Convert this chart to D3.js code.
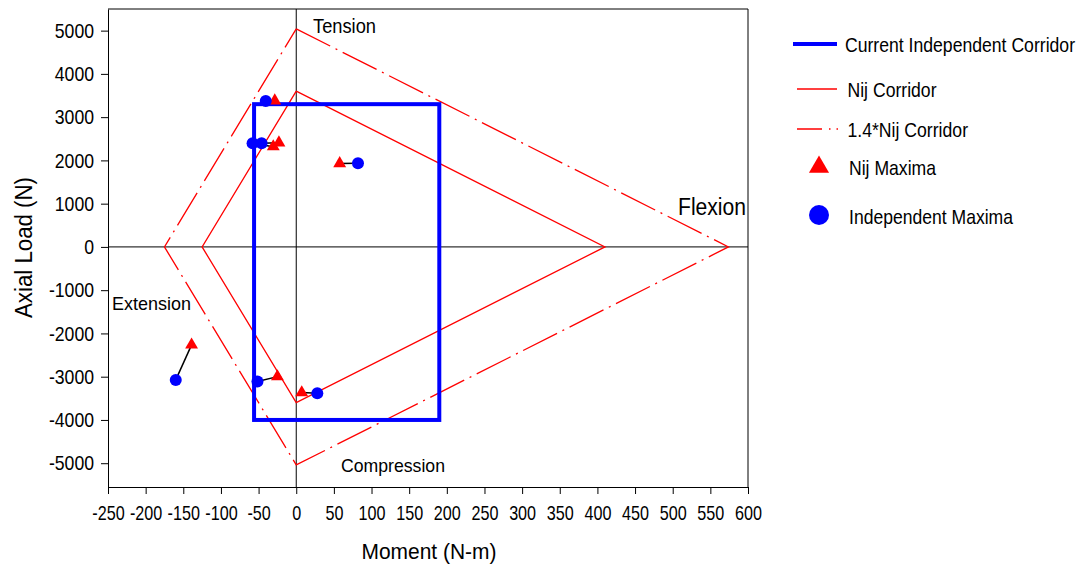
<!DOCTYPE html>
<html><head><meta charset="utf-8">
<script src="https://cdn.jsdelivr.net/npm/d3@7"></script>
<style>body{margin:0;background:#fff;} svg{display:block;font-family:"Liberation Sans",Arial,sans-serif;}</style>
</head><body>
<svg id="c" width="1079" height="565"></svg>
<script>
// Data
const xTicks = [-250,-200,-150,-100,-50,0,50,100,150,200,250,300,350,400,450,500,550,600];
const yTicks = [5000,4000,3000,2000,1000,0,-1000,-2000,-3000,-4000,-5000];
const nijCorridorM = [0, 410, 0, -125, 0];
const nijCorridorF = [3600, 0, -3600, 0, 3600];
const nij14CorridorM = [0, 574, 0, -175, 0];
const nij14CorridorF = [5040, 0, -5040, 0, 5040];
const indepCorridorM = [-56, 190];
const indepCorridorF = [-4000, 3300];
const nijMaxM = [-28.5, -30.5, -23, 57.7, -139, -25, 7.3];
const nijMaxF = [3380, 2318, 2410, 1930, -2265, -2998, -3368];
const indMaxM = [-40.5, -58, -46, 82, -160, -51.5, 28];
const indMaxF = [3375, 2397, 2397, 1935, -3074, -3113, -3383];
const legendLabels = ["Current Independent Corridor","Nij Corridor","1.4*Nij Corridor","Nij Maxima","Independent Maxima"];

const svg = d3.select("#c");
const L=108, R=748, T=9, B=487;
const x = d3.scaleLinear().domain([-250,600]).range([L,R]);
const y = d3.scaleLinear().domain([-5550,5500]).range([B,T]);

function condense(sel, k){
  sel.each(function(){
    const w = this.getComputedTextLength();
    d3.select(this).attr("textLength", w*k).attr("lengthAdjust","spacingAndGlyphs");
  });
}

// frame top/right
svg.append("line").attr("x1",L).attr("x2",R).attr("y1",T).attr("y2",T).attr("stroke","#000").attr("stroke-width",1);
svg.append("line").attr("x1",R).attr("x2",R).attr("y1",T).attr("y2",B).attr("stroke","#000").attr("stroke-width",1);

// axes
const gx = svg.append("g").attr("transform",`translate(0,${B})`)
  .call(d3.axisBottom(x).tickValues(xTicks).tickSize(7).tickSizeOuter(0).tickFormat(d=>String(d)));
const gy = svg.append("g").attr("transform",`translate(${L},0)`)
  .call(d3.axisLeft(y).tickValues(yTicks).tickSize(7).tickSizeOuter(0).tickFormat(d=>String(d)));
[gx,gy].forEach(g=>{
  g.select(".domain").attr("stroke","#000");
  g.selectAll(".tick line").attr("stroke","#000");
  g.selectAll("text").attr("font-size",21).attr("fill","#000").attr("font-family","Liberation Sans, Arial, sans-serif");
});
gx.selectAll("text").attr("y",18);
gy.selectAll("text").attr("x",-14);
condense(gx.selectAll("text"),0.77);
condense(gy.selectAll("text"),0.84);

// zero lines
svg.append("line").attr("x1",x(0)).attr("x2",x(0)).attr("y1",T).attr("y2",B).attr("stroke","#000").attr("stroke-width",1);
svg.append("line").attr("x1",L).attr("x2",R).attr("y1",y(0)).attr("y2",y(0)).attr("stroke","#000").attr("stroke-width",1);

const line = d3.line().x(d=>x(d[0])).y(d=>y(d[1]));
// 1.4 Nij corridor
svg.append("path").attr("d",line(d3.zip(nij14CorridorM,nij14CorridorF)))
  .attr("fill","none").attr("stroke","#ff0000").attr("stroke-width",1.3).attr("stroke-dasharray","38,6,2,6");
// Nij corridor
svg.append("path").attr("d",line(d3.zip(nijCorridorM,nijCorridorF)))
  .attr("fill","none").attr("stroke","#ff0000").attr("stroke-width",1.3);
// independent corridor
svg.append("rect").attr("x",x(indepCorridorM[0])).attr("y",y(indepCorridorF[1]))
  .attr("width",x(indepCorridorM[1])-x(indepCorridorM[0]))
  .attr("height",y(indepCorridorF[0])-y(indepCorridorF[1]))
  .attr("fill","none").attr("stroke","#0000ff").attr("stroke-width",4);

// connectors
nijMaxM.forEach((m,i)=>{
  svg.append("line").attr("x1",x(m)).attr("y1",y(nijMaxF[i])).attr("x2",x(indMaxM[i])).attr("y2",y(indMaxF[i]))
    .attr("stroke","#000").attr("stroke-width",1.5);
});
const tri = d3.symbol().type(d3.symbolTriangle).size(72);
nijMaxM.forEach((m,i)=>{
  svg.append("path").attr("d",tri()).attr("transform",`translate(${x(m)},${y(nijMaxF[i])})`).attr("fill","#ff0000");
});
indMaxM.forEach((m,i)=>{
  svg.append("circle").attr("cx",x(m)).attr("cy",y(indMaxF[i])).attr("r",6).attr("fill","#0000ff");
});

// annotations
const txt=(s,xx,yy,fs,len,anchor)=>svg.append("text").attr("x",xx).attr("y",yy).attr("font-size",fs)
  .attr("text-anchor",anchor||"start").attr("fill","#000")
  .attr("textLength",len).attr("lengthAdjust","spacingAndGlyphs").text(s);
txt("Tension",313,33,20,63);
txt("Compression",341,472,19,104);
txt("Extension",112,310,19,79);
txt("Flexion",678,215,23.5,68);

// axis titles
txt("Moment (N-m)",429,559,22,135,"middle");
svg.append("text").attr("transform","translate(31.5,247.5) rotate(-90)").attr("text-anchor","middle")
  .attr("font-size",23).attr("fill","#000")
  .attr("textLength",141).attr("lengthAdjust","spacingAndGlyphs").text("Axial Load (N)");

// legend
const lg = svg.append("g");
const ly = [44, 89, 129, 167, 215];
const lty = [45, 90, 130, 168, 217];
lg.append("line").attr("x1",793).attr("x2",837).attr("y1",ly[0]).attr("y2",ly[0]).attr("stroke","#0000ff").attr("stroke-width",4);
lg.append("line").attr("x1",797).attr("x2",837).attr("y1",ly[1]).attr("y2",ly[1]).attr("stroke","#ff0000").attr("stroke-width",1.3);
lg.append("line").attr("x1",797).attr("x2",838).attr("y1",ly[2]).attr("y2",ly[2]).attr("stroke","#ff0000").attr("stroke-width",1.3).attr("stroke-dasharray","25,7,1.5,6,1.5,20");
lg.append("path").attr("d",d3.symbol().type(d3.symbolTriangle).size(175)()).attr("transform",`translate(819,${ly[3]})`).attr("fill","#ff0000");
lg.append("circle").attr("cx",819).attr("cy",ly[4]).attr("r",10).attr("fill","#0000ff");
const lx=[845,847.5,847.5,849,849];
const lw=[230,89,120.5,87,164];
legendLabels.forEach((s,i)=>{
  lg.append("text").attr("x",lx[i]).attr("y",lty[i]).attr("dy","0.35em").attr("font-size",21).attr("fill","#000")
    .attr("textLength",lw[i]).attr("lengthAdjust","spacingAndGlyphs").text(s);
});
</script>
</body></html>
